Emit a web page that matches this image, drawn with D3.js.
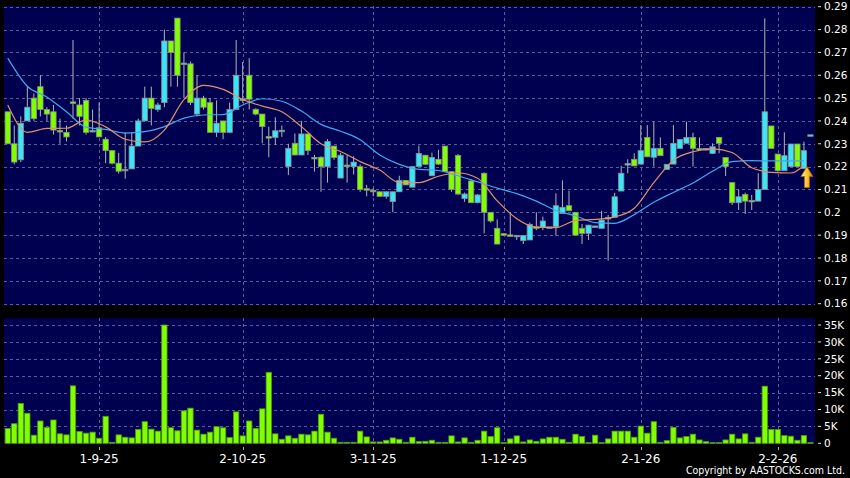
<!DOCTYPE html>
<html><head><meta charset="utf-8">
<script src="https://cdn.jsdelivr.net/npm/d3@7"></script>
<style>html,body{margin:0;padding:0;background:#000;} svg{display:block;}</style>
</head><body>
<svg id="c" width="850" height="478"></svg>
<script>
// ---- data ----
const openP  = [.244,.230,.223,.240,.250,.255,.245,.244,.2357,.235,.2482,.247,.249,.2352,.237,.232,.227,.2215,.2183,.219,
  .229,.240,.250,.245,.248,.275,.285,.2648,.265,.243,.250,.248,.235,.240,.235,.245,.2495,.260,.2451,.243,
  .2330,.2328,.2354,.220,.2302,.2251,.2343,.2238,.2241,.220,.229,.215,.2205,.220,.220,.2101,.2094,.209,.207,.2047,
  .209,.214,.211,.220,.225,.216,.2232,.229,.2178,.2249,.2061,.2137,.2042,.2171,.200,.193,.1904,.1899,.1895,.1876,
  .1879,.1934,.1933,.1932,.1937,.1995,.2029,.200,.193,.1908,.1936,.193,.1975,.1978,.2093,.2209,.2232,.2211,.2328,.2241,
  .228,.2188,.2211,.228,.2302,.2328,.2277,.2275,.2258,.2328,.224,.213,.2042,.2078,.2050,.2049,.210,.2378,.2255,.2182,
  .220,.2299,.2192,.2335];
const highP  = [.244,.238,.242,.255,.252,.260,.246,.247,.241,.238,.2754,.250,.250,.245,.248,.233,.227,.226,.235,.235,
  .241,.255,.255,.248,.280,.275,.285,.270,.266,.260,.251,.250,.249,.240,.248,.2754,.2658,.2675,.2455,.243,
  .2375,.2416,.238,.230,.2345,.240,.2343,.2251,.2245,.232,.229,.226,.225,.2245,.221,.212,.2105,.209,.209,.209,
  .216,.214,.220,.2292,.225,.2261,.2273,.229,.2178,.2255,.2086,.2145,.208,.2175,.200,.1969,.1908,.200,.1898,.1900,
  .1955,.200,.1981,.1935,.2083,.214,.2095,.200,.1949,.1945,.1940,.2007,.1988,.2085,.2203,.2232,.2258,.2382,.2382,.2397,
  .2328,.221,.2382,.2319,.2397,.2349,.2328,.2280,.2302,.2330,.224,.213,.210,.2086,.2076,.2171,.2849,.2378,.2255,.235,
  .2299,.2299,.2309,.2337];
const lowP   = [.230,.221,.222,.240,.240,.242,.240,.234,.230,.231,.241,.238,.234,.235,.233,.2215,.221,.217,.2147,.219,
  .229,.240,.238,.244,.246,.255,.255,.250,.247,.242,.245,.235,.233,.232,.235,.245,.248,.245,.2425,.2302,
  .2241,.2295,.233,.2163,.2250,.2251,.2251,.2178,.209,.213,.223,.215,.213,.2165,.209,.207,.207,.207,.206,.200,
  .209,.212,.211,.2203,.221,.216,.2207,.2178,.209,.2075,.2046,.2042,.2040,.1908,.1955,.1861,.1898,.1895,.1879,.1861,
  .1879,.1922,.1922,.1930,.1898,.1995,.2007,.190,.1861,.1879,.1933,.193,.1788,.1978,.2093,.2171,.2203,.2211,.2243,.220,
  .2248,.2188,.2211,.228,.2302,.220,.2270,.2270,.2255,.2258,.2159,.2032,.201,.1993,.201,.2049,.210,.228,.2178,.2182,
  .220,.220,.2192,.2335];
const closeP = [.230,.222,.239,.246,.241,.245,.243,.236,.2353,.233,.2478,.242,.235,.2358,.233,.227,.2215,.218,.2187,.229,
  .240,.250,.2455,.247,.275,.270,.260,.2652,.248,.250,.246,.235,.239,.235,.245,.260,.249,.2495,.243,.2375,
  .2326,.2357,.2358,.228,.2251,.2343,.2270,.2236,.2200,.231,.224,.225,.2202,.222,.210,.2099,.2092,.207,.209,.209,
  .214,.212,.220,.2258,.221,.224,.2211,.2178,.210,.208,.2080,.2042,.2076,.200,.1962,.1861,.1902,.1897,.1897,.1898,
  .1947,.1932,.1962,.1934,.2029,.2022,.2007,.190,.1908,.1944,.1938,.1966,.1973,.2068,.2171,.2211,.2203,.227,.2243,.228,
  .2248,.221,.2302,.2319,.2328,.228,.2275,.2277,.2287,.2302,.220,.2042,.2068,.2049,.2048,.210,.244,.228,.2182,.2248,
  .2299,.220,.227,.2337];
const volumeK = [4.4,5.8,11.8,8.9,2.4,6.6,4.7,6.9,2.8,2.5,17.0,3.5,3.0,3.3,1.5,8.0,0.3,2.5,1.8,1.6,
  4.1,6.4,4.2,3.6,35.0,4.6,3.7,9.6,10.4,3.9,2.7,3.3,4.9,4.6,1.7,9.3,2.2,6.6,4.4,10.2,
  21.0,2.8,1.2,2.2,1.5,2.7,2.5,3.6,8.6,3.3,1.5,0.3,0.3,0.3,3.6,1.9,0.4,0.4,0.9,1.6,
  1.2,0.3,1.8,0.5,0.6,0.9,0.3,0.3,2.2,0.4,1.6,0.3,0.9,3.6,2.0,4.6,0.2,1.3,2.2,0.4,
  1.0,0.6,1.3,1.8,1.8,1.2,0.3,2.7,2.0,0.2,2.4,0.2,1.3,3.6,3.6,3.6,1.8,5.1,3.0,6.4,
  0.3,0.8,4.7,1.6,2.0,2.7,1.0,0.5,0.2,0.2,1.0,2.7,1.3,2.8,0.3,1.8,16.9,4.1,4.1,2.3,
  2.1,0.9,2.3,0.2];
const maIdx = [0,3,6,9,12,15,18,21,24,27,30,33,36,39,42,45,48,51,54,57,60,63,66,69,72,75,78,81,84,87,90,93,96,99,102,105,108,111,114,117,120,122];
const maShort = [.2470,.2350,.2367,.2368,.2404,.2374,.2320,.2308,.2360,.2493,.2556,.2538,.2494,.2465,.2440,.2375,.2300,.2266,.2222,.2185,
  .2130,.2130,.2158,.2172,.2149,.2050,.1972,.1935,.1933,.1964,.1969,.1980,.2018,.2130,.2228,.2265,.2278,.2262,.2195,.2175,.2172,.2205];
const maLong = [.2675,.2552,.2505,.2440,.2373,.2363,.2347,.2353,.2375,.2412,.2426,.2428,.2470,.2497,.2486,.2443,.2385,.2355,.2318,.2251,
  .2210,.2188,.2183,.2160,.2133,.2106,.2082,.2049,.2008,.1985,.1955,.1952,.1990,.2044,.2087,.2128,.2180,.2222,.2226,.2225,.2225,.2225];
const dateTickIdx = [14,36,56,76,97,118];
const dateTickLabels = ["1-9-25","2-10-25","3-11-25","1-12-25","2-1-26","2-2-26"];
const priceTicks = [0.29,0.28,0.27,0.26,0.25,0.24,0.23,0.22,0.21,0.20,0.19,0.18,0.17,0.16];
const priceTickLabels = ["0.29","0.28","0.27","0.26","0.25","0.24","0.23","0.22","0.21","0.2","0.19","0.18","0.17","0.16"];
const volTicks = [0,5,10,15,20,25,30,35];
const volTickLabels = ["0","5K","10K","15K","20K","25K","30K","35K"];
const arrowIdx = 122, arrowVal = 0.22;

// ---- layout ----
const W = 850, H = 478;
const left = 3.9, right = 814.3;
const mainTop = 6, mainBot = 305;
const volTop = 318, volBot = 444;
const NAVY = "#000050", GREEN = "#80ff00", CYAN = "#38e6f8";

const svg = d3.select("#c");
svg.append("rect").attr("width", W).attr("height", H).attr("fill", "#000");

const idx = d3.range(openP.length);
const x = d3.scaleBand().domain(idx).range([left, right]).padding(0.18);
const xc = i => x(i) + x.bandwidth() / 2;
const y = d3.scaleLinear().domain([0.16, 0.29]).range([303.7, 6.7]);
const yv = d3.scaleLinear().domain([0, 35]).range([443.3, 325]);

// panels
svg.append("rect").attr("x", 4).attr("y", mainTop).attr("width", 811).attr("height", mainBot - mainTop).attr("fill", NAVY);
svg.append("rect").attr("x", 4).attr("y", volTop).attr("width", 811).attr("height", volBot - volTop).attr("fill", NAVY);

const gridCol = "#5c5c98";
const g = svg.append("g").attr("stroke", gridCol).attr("stroke-width", 1).attr("stroke-dasharray", "3,3").attr("fill", "none");
priceTicks.forEach(t => g.append("line").attr("x1", 4).attr("x2", 815).attr("y1", Math.round(y(t)) + 0.5).attr("y2", Math.round(y(t)) + 0.5));
volTicks.filter(t => t > 0).forEach(t => g.append("line").attr("x1", 4).attr("x2", 815).attr("y1", Math.round(yv(t)) + 0.5).attr("y2", Math.round(yv(t)) + 0.5));
dateTickIdx.forEach(i => {
  const px = Math.round(xc(i)) + 0.5;
  g.append("line").attr("x1", px).attr("x2", px).attr("y1", mainTop).attr("y2", mainBot);
  g.append("line").attr("x1", px).attr("x2", px).attr("y1", volTop).attr("y2", volBot);
});

// candles
const cg = svg.append("g");
idx.forEach(i => {
  const o = openP[i], c = closeP[i], h = highP[i], l = lowP[i];
  const cx = xc(i);
  cg.append("line").attr("x1", cx).attr("x2", cx).attr("y1", y(h)).attr("y2", y(l))
    .attr("stroke", "#b4b4b4").attr("stroke-width", 1);
  const top = y(Math.max(o, c)), bot = y(Math.min(o, c));
  const hgt = Math.max(bot - top, 1.5);
  cg.append("rect").attr("x", x(i)).attr("y", top - (hgt - (bot - top)) / 2).attr("width", x.bandwidth()).attr("height", hgt)
    .attr("fill", c >= o ? CYAN : GREEN).attr("stroke", "#8c8c8c").attr("stroke-width", 0.8);
});

// moving averages
const line = d3.line().x(d => xc(d[0])).y(d => y(d[1])).curve(d3.curveMonotoneX);
svg.append("path").attr("d", line(maIdx.map((k, j) => [k, maLong[j]])))
  .attr("fill", "none").attr("stroke", "#3fa8ee").attr("stroke-width", 1.2);
svg.append("path").attr("d", line(maIdx.map((k, j) => [k, maShort[j]])))
  .attr("fill", "none").attr("stroke", "#e0906a").attr("stroke-width", 1.2);

// arrow marker
const defs = svg.append("defs");
const grad = defs.append("linearGradient").attr("id", "ag").attr("x1", 0).attr("x2", 1).attr("y1", 0).attr("y2", 0);
grad.append("stop").attr("offset", "0%").attr("stop-color", "#fff090");
grad.append("stop").attr("offset", "55%").attr("stop-color", "#ffc030");
grad.append("stop").attr("offset", "100%").attr("stop-color", "#d08000");
const ax = xc(arrowIdx) + 3, ay = y(arrowVal);
svg.append("path")
  .attr("d", `M${ax},${ay} L${ax + 6},${ay + 10} L${ax + 2.5},${ay + 10} L${ax + 2.5},${ay + 21} L${ax - 2.5},${ay + 21} L${ax - 2.5},${ay + 10} L${ax - 6},${ay + 10} Z`)
  .attr("fill", "url(#ag)").attr("stroke", "#a86a00").attr("stroke-width", 0.8);

// volume bars
const vg = svg.append("g");
idx.forEach(i => {
  vg.append("rect").attr("x", x(i)).attr("y", yv(volumeK[i])).attr("width", x.bandwidth())
    .attr("height", Math.max(yv(0) - yv(volumeK[i]), 0.8))
    .attr("fill", GREEN).attr("stroke", "#4f9a10").attr("stroke-width", 0.8);
});

// right axes
const font = "DejaVu Sans, Verdana, sans-serif";
const ra = svg.append("g").attr("font-family", font).attr("font-size", 10.5).attr("fill", "#fff");
priceTicks.forEach((t, j) => {
  ra.append("line").attr("x1", 818).attr("x2", 821).attr("y1", y(t)).attr("y2", y(t)).attr("stroke", "#ddd");
  ra.append("text").attr("x", 824).attr("y", y(t)).attr("dy", "0.36em").text(priceTickLabels[j]);
});
volTicks.forEach((t, j) => {
  ra.append("line").attr("x1", 818).attr("x2", 821).attr("y1", yv(t)).attr("y2", yv(t)).attr("stroke", "#ddd");
  ra.append("text").attr("x", 824).attr("y", yv(t)).attr("dy", "0.36em").text(volTickLabels[j]);
});

// date axis
const da = svg.append("g").attr("font-family", font).attr("font-size", 12).attr("fill", "#fff").attr("text-anchor", "middle");
dateTickIdx.forEach((i, j) => {
  const px = Math.round(xc(i)) + 0.5;
  da.append("line").attr("x1", px).attr("x2", px).attr("y1", 447).attr("y2", 450).attr("stroke", "#aaa");
  da.append("text").attr("x", xc(i)).attr("y", 462.5).text(dateTickLabels[j]);
});

svg.append("text").attr("x", 845).attr("y", 474).attr("text-anchor", "end")
  .attr("font-family", "DejaVu Sans Condensed, DejaVu Sans, sans-serif").attr("font-stretch", "condensed")
  .attr("font-size", 10.5).attr("fill", "#fff").text("Copyright by AASTOCKS.com Ltd.");
</script>
</body></html>
